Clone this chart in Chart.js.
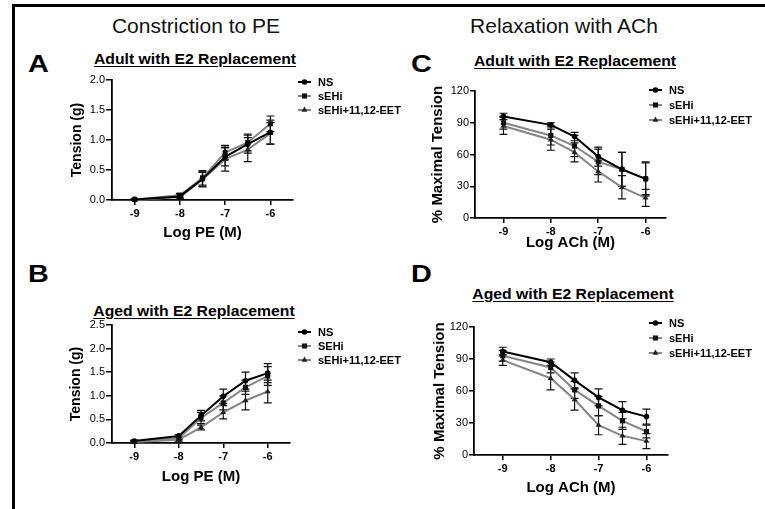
<!DOCTYPE html>
<html lang="en">
<head>
  <meta charset="UTF-8">
  <title>Constriction to PE / Relaxation with ACh</title>
  <script src="https://cdn.jsdelivr.net/npm/chart.js@4.4.0/dist/chart.umd.min.js"></script>
  <style>
    body { margin: 0; background: #fff; font-family: "Liberation Sans", Arial, sans-serif; }
    #page { position: relative; width: 765px; height: 509px; overflow: hidden; background: #fff; }
    .rule-top { position: absolute; left: 12px; top: 4px; width: 753px; height: 3px; background: #000; }
    .rule-left { position: absolute; left: 12px; top: 4px; width: 2.5px; height: 505px; background: #000; }
    .head { position: absolute; width: 300px; font-size: 21px; line-height: 21px; text-align: center; color: #111; }
    .letter { position: absolute; font-size: 24px; line-height: 24px; font-weight: bold; transform: scaleX(1.2); transform-origin: left; }
    .ptitle { position: absolute; width: 300px; font-size: 15px; line-height: 15px; font-weight: bold; text-align: center;
              text-decoration: underline; text-underline-offset: 2px; transform: scaleX(1.05); }
    canvas { position: absolute; }
  </style>
</head>
<body>
<div id="page">
  <div class="rule-top"></div>
  <div class="rule-left"></div>

  <div class="head" style="left:46px; top:15px;">Constriction to PE</div>
  <div class="head" style="left:414px; top:15px;">Relaxation with ACh</div>

  <div class="letter" style="left:28px; top:52px;">A</div>
  <div class="letter" style="left:28px; top:262px;">B</div>
  <div class="letter" style="left:411px; top:52px;">C</div>
  <div class="letter" style="left:411px; top:262px;">D</div>

  <div class="ptitle" style="left:45px; top:51px;">Adult with E2 Replacement</div>
  <div class="ptitle" style="left:44px; top:303px;">Aged with E2 Replacement</div>
  <div class="ptitle" style="left:425px; top:53px;">Adult with E2 Replacement</div>
  <div class="ptitle" style="left:423px; top:286px;">Aged with E2 Replacement</div>

  <canvas id="chartA" width="420" height="180" style="left:14px; top:70px;"></canvas>
  <canvas id="chartB" width="420" height="180" style="left:14px; top:315px;"></canvas>
  <canvas id="chartC" width="385" height="185" style="left:380px; top:75px;"></canvas>
  <canvas id="chartD" width="385" height="190" style="left:380px; top:315px;"></canvas>
</div>

<script>
  // doses (log M) and tick labels
  const doses = [-9, -8, -7.5, -7, -6.5, -6];
  const xTicks = [-9, -8, -7, -6];
  const peTicksAdult = [0, 0.5, 1, 1.5, 2];
  const peTicksAged = [0, 0.5, 1, 1.5, 2, 2.5];
  const achTicks = [0, 30, 60, 90, 120];

  const namesAdult = ['NS', 'sEHi', 'sEHi+11,12-EET'];
  const namesAgedPE = ['NS', 'SEHi', 'sEHi+11,12-EET'];
  const namesAgedACh = ['NS', 'sEHi', 'sEHi+11,12-EET'];

  // A: PE, adult
  const peAdultNS = [0.01, 0.06, 0.35, 0.72, 0.93, 1.13];
  const peAdultNSErr = [0.01, 0.03, 0.12, 0.15, 0.15, 0.2];
  const peAdultSEHi = [0.01, 0.08, 0.37, 0.79, 0.96, 1.27];
  const peAdultSEHiErr = [0.01, 0.03, 0.12, 0.12, 0.14, 0.13];
  const peAdultEET = [0.0, 0.05, 0.34, 0.68, 0.84, 1.11];
  const peAdultEETErr = [0.01, 0.03, 0.12, 0.2, 0.2, 0.18];

  // B: PE, aged
  const peAgedNS = [0.04, 0.15, 0.58, 0.99, 1.32, 1.48];
  const peAgedNSErr = [0.02, 0.03, 0.11, 0.15, 0.18, 0.2];
  const peAgedSEHi = [0.03, 0.10, 0.53, 0.85, 1.18, 1.42];
  const peAgedSEHiErr = [0.02, 0.03, 0.12, 0.15, 0.15, 0.2];
  const peAgedEET = [0.02, 0.07, 0.33, 0.65, 0.90, 1.09];
  const peAgedEETErr = [0.02, 0.03, 0.05, 0.14, 0.2, 0.24];

  // C: ACh, adult
  const achAdultNS = [96, 88, 77, 58, 46, 37];
  const achAdultNSErr = [3, 2, 4, 9, 16, 15];
  const achAdultSEHi = [90, 78, 68, 53, 46, 37];
  const achAdultSEHiErr = [6, 9, 10, 12, 16, 16];
  const achAdultEET = [87, 74, 62, 44, 29, 19];
  const achAdultEETErr = [8, 10, 9, 10, 11, 8];

  // D: ACh, aged
  const achAgedNS = [97, 87, 70, 54, 42, 36];
  const achAgedNSErr = [4, 3, 7, 8, 8, 7];
  const achAgedSEHi = [93, 82, 61, 46, 32, 22];
  const achAgedSEHiErr = [5, 5, 8, 9, 8, 6];
  const achAgedEET = [89, 72, 52, 28, 18, 13];
  const achAgedEETErr = [5, 11, 10, 9, 8, 7];

  Chart.defaults.font.family = '"Liberation Sans", Arial, Helvetica, sans-serif';
  Chart.defaults.color = '#000';
  Chart.defaults.animation = false;

  const styles = [
    { line: '#000', mark: '#000', shape: 'circle', r: 2.8 },
    { line: '#858585', mark: '#111', shape: 'rect', r: 3.6 },
    { line: '#858585', mark: '#222', shape: 'triangle', r: 3.4 }
  ];

  function drawMark(ctx, shape, x, y, r, color) {
    ctx.fillStyle = color;
    ctx.beginPath();
    if (shape === 'circle') {
      ctx.arc(x, y, r, 0, Math.PI * 2);
    } else if (shape === 'rect') {
      const s = r * Math.SQRT1_2;
      ctx.rect(x - s, y - s, 2 * s, 2 * s);
    } else {
      ctx.moveTo(x, y - r);
      ctx.lineTo(x + r * 0.87, y + r * 0.5);
      ctx.lineTo(x - r * 0.87, y + r * 0.5);
      ctx.closePath();
    }
    ctx.fill();
  }

  // vertical SEM bars with caps
  const errorBars = {
    id: 'errorBars',
    beforeDatasetsDraw(chart) {
      const { ctx, scales: { x, y } } = chart;
      chart.data.datasets.forEach(ds => {
        ctx.save();
        ctx.strokeStyle = '#111';
        ctx.lineWidth = 1.2;
        ds.data.forEach((p, j) => {
          const e = ds.errors[j];
          const px = x.getPixelForValue(p.x);
          const top = y.getPixelForValue(p.y + e);
          const bot = y.getPixelForValue(Math.max(p.y - e, 0));
          ctx.beginPath();
          ctx.moveTo(px, top); ctx.lineTo(px, bot);
          ctx.moveTo(px - 4, top); ctx.lineTo(px + 4, top);
          ctx.moveTo(px - 4, bot); ctx.lineTo(px + 4, bot);
          ctx.stroke();
        });
        ctx.restore();
      });
    }
  };

  // legend: short line + marker + bold label
  const sideLegend = {
    id: 'sideLegend',
    afterDraw(chart, args, opts) {
      const ctx = chart.ctx;
      chart.data.datasets.forEach((ds, i) => {
        const st = styles[i];
        const y = opts.y + i * opts.gap;
        ctx.save();
        ctx.strokeStyle = st.line;
        ctx.lineWidth = 2;
        ctx.beginPath();
        ctx.moveTo(opts.x, y);
        ctx.lineTo(opts.x + 13, y);
        ctx.stroke();
        drawMark(ctx, st.shape, opts.x + 6.5, y, st.r, st.mark);
        ctx.fillStyle = '#000';
        ctx.font = 'bold 11px "Liberation Sans", Arial, sans-serif';
        ctx.textBaseline = 'middle';
        ctx.fillText(ds.label, opts.x + 20, y + 0.5);
        ctx.restore();
      });
    }
  };

  function series(names, sets) {
    return sets.map((s, i) => ({
      label: names[i],
      data: doses.map((d, j) => ({ x: d, y: s[0][j] })),
      errors: s[1],
      borderColor: styles[i].line,
      borderWidth: 2,
      pointStyle: styles[i].shape,
      pointRadius: styles[i].r,
      pointBackgroundColor: styles[i].mark,
      pointBorderColor: styles[i].mark,
      pointBorderWidth: 0,
      tension: 0,
      clip: false
    }));
  }

  function makePanel(id, p) {
    new Chart(document.getElementById(id), {
      type: 'line',
      data: { datasets: p.datasets },
      options: {
        responsive: false,
        devicePixelRatio: 1,
        events: [],
        layout: { padding: { left: 0, top: p.padTop, right: p.padRight, bottom: 0 } },
        plugins: {
          legend: { display: false },
          tooltip: { enabled: false },
          sideLegend: p.legend
        },
        scales: {
          x: {
            type: 'linear',
            min: p.xMin, max: p.xMax,
            afterBuildTicks: s => { s.ticks = xTicks.map(v => ({ value: v })); },
            afterFit: s => { s.height = p.xHeight; },
            grid: { drawOnChartArea: false, drawTicks: true, tickLength: 5, color: '#000', lineWidth: 1.5 },
            border: { display: true, color: '#000', width: 1.8 },
            ticks: { autoSkip: false, maxRotation: 0, padding: 2, font: { size: 11, weight: 'bold' },
                     callback: v => String(v) },
            title: { display: true, text: p.xTitle, font: { size: 15, weight: 'bold' },
                     padding: { top: 0, bottom: p.xTitlePad } }
          },
          y: {
            type: 'linear',
            min: p.yTicks[0], max: p.yTicks[p.yTicks.length - 1],
            afterBuildTicks: s => { s.ticks = p.yTicks.map(v => ({ value: v })); },
            afterFit: s => { s.width = p.yWidth; },
            grid: { drawOnChartArea: false, drawTicks: true, tickLength: p.yTickLen, color: '#000', lineWidth: 1.5 },
            border: { display: true, color: '#000', width: 1.8 },
            ticks: { autoSkip: false, padding: 1, font: { size: 11 }, callback: p.yFmt },
            title: { display: true, text: p.yTitle, font: { size: p.yTitleSize, weight: 'bold' },
                     padding: { top: p.yTitlePad, bottom: 0 } }
          }
        }
      },
      plugins: [errorBars, sideLegend]
    });
  }

  const fmt1 = v => v.toFixed(1);
  const fmt0 = v => String(v);

  makePanel('chartA', {
    datasets: series(namesAdult, [[peAdultNS, peAdultNSErr], [peAdultSEHi, peAdultSEHiErr], [peAdultEET, peAdultEETErr]]),
    xMin: -9.5, xMax: -5.5, yTicks: peTicksAdult, yFmt: fmt1,
    padTop: 10, padRight: 141, yWidth: 98, xHeight: 50, yTickLen: 6,
    xTitle: 'Log PE (M)', xTitlePad: 8, yTitle: 'Tension (g)', yTitleSize: 14, yTitlePad: 54.6,
    legend: { x: 284, y: 12, gap: 14 }
  });

  makePanel('chartB', {
    datasets: series(namesAgedPE, [[peAgedNS, peAgedNSErr], [peAgedSEHi, peAgedSEHiErr], [peAgedEET, peAgedEETErr]]),
    xMin: -9.5, xMax: -5.5, yTicks: peTicksAged, yFmt: fmt1,
    padTop: 10, padRight: 144, yWidth: 98, xHeight: 52, yTickLen: 6,
    xTitle: 'Log PE (M)', xTitlePad: 9, yTitle: 'Tension (g)', yTitleSize: 14, yTitlePad: 53.6,
    legend: { x: 284, y: 17, gap: 14 }
  });

  makePanel('chartC', {
    datasets: series(namesAdult, [[achAdultNS, achAdultNSErr], [achAdultSEHi, achAdultSEHiErr], [achAdultEET, achAdultEETErr]]),
    xMin: -9.6, xMax: -5.57, yTicks: achTicks, yFmt: fmt0,
    padTop: 16, padRight: 99, yWidth: 95, xHeight: 42, yTickLen: 5,
    xTitle: 'Log ACh (M)', xTitlePad: 8, yTitle: '% Maximal Tension', yTitleSize: 15, yTitlePad: 49,
    legend: { x: 269, y: 15, gap: 15 }
  });

  makePanel('chartD', {
    datasets: series(namesAgedACh, [[achAgedNS, achAgedNSErr], [achAgedSEHi, achAgedSEHiErr], [achAgedEET, achAgedEETErr]]),
    xMin: -9.6, xMax: -5.55, yTicks: achTicks, yFmt: fmt0,
    padTop: 12, padRight: 97, yWidth: 94, xHeight: 50, yTickLen: 5,
    xTitle: 'Log ACh (M)', xTitlePad: 8, yTitle: '% Maximal Tension', yTitleSize: 15, yTitlePad: 51,
    legend: { x: 269, y: 8, gap: 15 }
  });
</script>
</body>
</html>
